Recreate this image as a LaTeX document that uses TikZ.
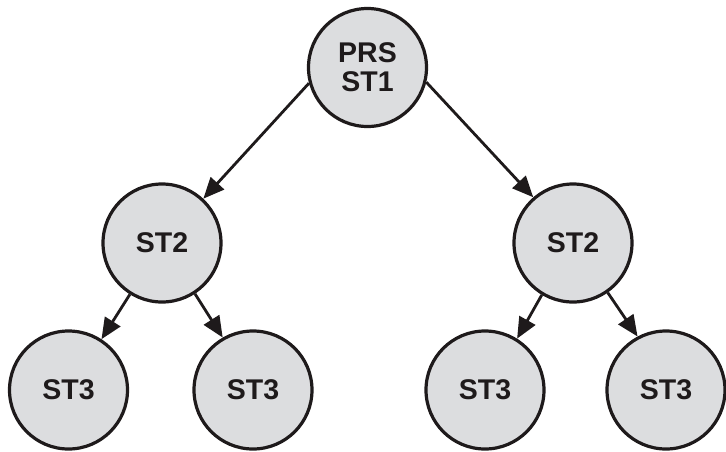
\documentclass[tikz,border=0pt]{standalone}
\usepackage{fontspec}
\setmainfont{Liberation Sans}
\usetikzlibrary{arrows.meta}
\definecolor{nodefill}{RGB}{220,221,223}
\definecolor{ink}{RGB}{30,26,27}
\begin{document}
\begin{tikzpicture}[x=1pt,y=-1pt,
  state/.style={circle,draw=ink,fill=nodefill,line width=3.2pt,minimum size=118pt,inner sep=0pt,
    font=\fontsize{28.5}{29}\selectfont\bfseries,text=ink,align=center},
  edge/.style={draw=ink,line width=2.8pt,-{Triangle[length=21pt,width=18pt]}}]
\useasboundingbox (0,0) rectangle (726,451);
\node[state] (top) at (367.5,67.5) {PRS\\ST1};
\node[state] (l) at (162,243) {ST2};
\node[state] (r) at (573,243) {ST2};
\node[state] (ll) at (68.5,390) {ST3};
\node[state] (lr) at (253,390) {ST3};
\node[state] (rl) at (485,390) {ST3};
\node[state] (rr) at (666,390) {ST3};
\draw[edge] (top.195) -- (l.47);
\draw[edge] (top.346) -- (r.131);
\draw[edge] (l.238) -- (ll.57);
\draw[edge] (l.303) -- (lr.120);
\draw[edge] (r.239) -- (rl.58);
\draw[edge] (r.305) -- (rr.118);
\end{tikzpicture}
\end{document}
